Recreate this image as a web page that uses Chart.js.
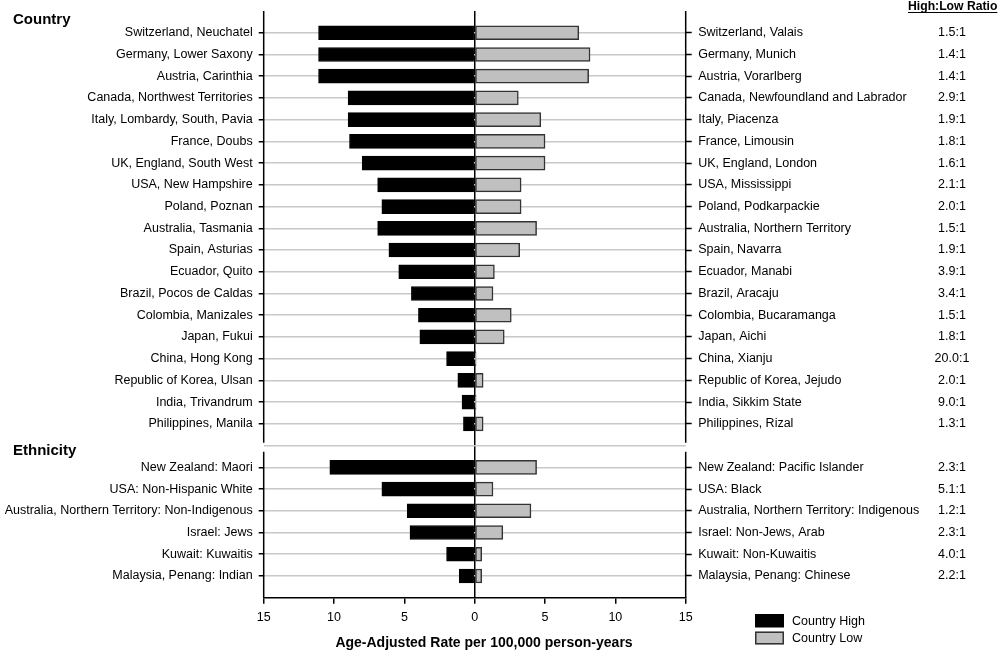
<!DOCTYPE html>
<html>
<head>
<meta charset="utf-8">
<script src="https://cdn.jsdelivr.net/npm/chart.js@4.4.1/dist/chart.umd.min.js"></script>
<style>
  html, body { margin: 0; padding: 0; background: #fff; }
  #wrap { width: 1000px; height: 651px; position: relative; }
</style>
</head>
<body>
<div id="wrap"><canvas id="rateChart"></canvas></div>
<script>
// rows 0-18: countries, row 19: gap, rows 20-25: ethnic groups
const highLabels = [
  'Switzerland, Neuchatel', 'Germany, Lower Saxony', 'Austria, Carinthia',
  'Canada, Northwest Territories', 'Italy, Lombardy, South, Pavia', 'France, Doubs',
  'UK, England, South West', 'USA, New Hampshire', 'Poland, Poznan',
  'Australia, Tasmania', 'Spain, Asturias', 'Ecuador, Quito',
  'Brazil, Pocos de Caldas', 'Colombia, Manizales', 'Japan, Fukui',
  'China, Hong Kong', 'Republic of Korea, Ulsan', 'India, Trivandrum',
  'Philippines, Manila', '',
  'New Zealand: Maori', 'USA: Non-Hispanic White', 'Australia, Northern Territory: Non-Indigenous',
  'Israel: Jews', 'Kuwait: Kuwaitis', 'Malaysia, Penang: Indian'
];
const lowLabels = [
  'Switzerland, Valais', 'Germany, Munich', 'Austria, Vorarlberg',
  'Canada, Newfoundland and Labrador', 'Italy, Piacenza', 'France, Limousin',
  'UK, England, London', 'USA, Mississippi', 'Poland, Podkarpackie',
  'Australia, Northern Territory', 'Spain, Navarra', 'Ecuador, Manabi',
  'Brazil, Aracaju', 'Colombia, Bucaramanga', 'Japan, Aichi',
  'China, Xianju', 'Republic of Korea, Jejudo', 'India, Sikkim State',
  'Philippines, Rizal', '',
  'New Zealand: Pacific Islander', 'USA: Black', 'Australia, Northern Territory: Indigenous',
  'Israel: Non-Jews, Arab', 'Kuwait: Non-Kuwaitis', 'Malaysia, Penang: Chinese'
];
const highRates = [11.1, 11.1, 11.1, 9.0, 9.0, 8.9, 8.0, 6.9, 6.6, 6.9, 6.1, 5.4, 4.5, 4.0, 3.9, 2.0, 1.2, 0.9, 0.8, null,
  10.3, 6.6, 4.8, 4.6, 2.0, 1.1];
const lowRates = [7.4, 8.2, 8.1, 3.1, 4.7, 5.0, 5.0, 3.3, 3.3, 4.4, 3.2, 1.4, 1.3, 2.6, 2.1, 0.1, 0.6, 0.1, 0.6, null,
  4.4, 1.3, 4.0, 2.0, 0.5, 0.5];
const ratios = ['1.5:1', '1.4:1', '1.4:1', '2.9:1', '1.9:1', '1.8:1', '1.6:1', '2.1:1', '2.0:1', '1.5:1',
  '1.9:1', '3.9:1', '3.4:1', '1.5:1', '1.8:1', '20.0:1', '2.0:1', '9.0:1', '1.3:1', '',
  '2.3:1', '5.1:1', '1.2:1', '2.3:1', '4.0:1', '2.2:1'];
const xTicks = [-15, -10, -5, 0, 5, 10, 15];
const gapRow = 19;

const FONT = '"Liberation Sans", Arial, sans-serif';

const highData = [];
const lowData = [];
highRates.forEach((v, i) => { if (v !== null) highData.push({ x: -v, y: i }); });
lowRates.forEach((v, i) => { if (v !== null) lowData.push({ x: v, y: i }); });

const rowTicks = (scale) => {
  scale.ticks = highLabels.map((_, i) => ({ value: i }));
};
const tickMarkColor = (ctx) => (ctx.tick && ctx.tick.value === gapRow ? 'rgba(0,0,0,0)' : '#000');
const fitRows = (width) => (scale) => {
  scale.width = width;
  scale.paddingTop = 0;
  scale.paddingBottom = 0;
};

// axis lines, ratio column, headings and legend
const decor = {
  id: 'decor',
  afterDraw(chart) {
    const { ctx, chartArea } = chart;
    const y = chart.scales.y;
    const breakTop = y.getPixelForValue(18.87);
    const breakBottom = y.getPixelForValue(19.28);
    ctx.save();
    ctx.strokeStyle = '#000';
    ctx.lineWidth = 1.5;
    [chartArea.left, chartArea.right].forEach(px => {
      ctx.beginPath();
      ctx.moveTo(px, chartArea.top);
      ctx.lineTo(px, breakTop);
      ctx.moveTo(px, breakBottom);
      ctx.lineTo(px, chartArea.bottom);
      ctx.stroke();
    });

    ctx.fillStyle = '#000';
    ctx.textBaseline = 'middle';
    ctx.textAlign = 'center';
    ctx.font = '12.5px ' + FONT;
    ratios.forEach((r, i) => {
      if (r) ctx.fillText(r, 952, y.getPixelForValue(i));
    });

    ctx.textBaseline = 'alphabetic';
    ctx.textAlign = 'left';
    ctx.font = 'bold 15px ' + FONT;
    ctx.fillText('Country', 13, 24);
    ctx.fillText('Ethnicity', 13, 455);

    ctx.font = 'bold 12.2px ' + FONT;
    ctx.fillText('High:Low Ratio', 908, 10);
    const w = ctx.measureText('High:Low Ratio').width;
    ctx.lineWidth = 1;
    ctx.beginPath();
    ctx.moveTo(908, 12.5);
    ctx.lineTo(908 + w, 12.5);
    ctx.stroke();

    ctx.textAlign = 'center';
    ctx.textBaseline = 'middle';
    ctx.font = 'bold 14px ' + FONT;
    ctx.fillText('Age-Adjusted Rate per 100,000 person-years', 484, 643);

    // legend
    ctx.fillStyle = '#000';
    ctx.fillRect(755, 614, 29, 13.5);
    ctx.fillStyle = '#c0c0c0';
    ctx.fillRect(755, 631.5, 29, 13);
    ctx.strokeStyle = '#333';
    ctx.lineWidth = 1.5;
    ctx.strokeRect(755.75, 632.25, 27.5, 11.5);
    ctx.fillStyle = '#000';
    ctx.textAlign = 'left';
    ctx.font = '12.5px ' + FONT;
    ctx.fillText('Country High', 792, 622);
    ctx.fillText('Country Low', 792, 638.5);
    ctx.restore();
  }
};

new Chart(document.getElementById('rateChart').getContext('2d'), {
  type: 'bar',
  data: {
    datasets: [
      {
        label: 'Country High',
        data: highData,
        backgroundColor: '#000',
        borderColor: '#000',
        borderWidth: 1,
        barThickness: 14,
        grouped: false
      },
      {
        label: 'Country Low',
        data: lowData,
        backgroundColor: '#c0c0c0',
        borderColor: '#333',
        borderWidth: 1.5,
        borderSkipped: false,
        barThickness: 14,
        grouped: false
      }
    ]
  },
  options: {
    indexAxis: 'y',
    responsive: true,
    maintainAspectRatio: false,
    animation: false,
    layout: { padding: { top: 11, left: 0, right: 0, bottom: 0 } },
    plugins: {
      legend: { display: false },
      tooltip: { enabled: false }
    },
    scales: {
      x: {
        type: 'linear',
        min: -15,
        max: 15,
        afterBuildTicks: (scale) => { scale.ticks = xTicks.map(v => ({ value: v })); },
        ticks: {
          callback: (v) => Math.abs(v),
          color: '#000',
          font: { family: FONT, size: 12.5 },
          padding: 6
        },
        grid: {
          color: (ctx) => (ctx.tick && ctx.tick.value === 0 ? '#000' : 'rgba(0,0,0,0)'),
          lineWidth: 1.5,
          tickColor: '#000',
          tickLength: 6,
          tickWidth: 1.5
        },
        border: { display: true, color: '#000', width: 1.5 },
        afterFit: (scale) => { scale.height = 53.3; }
      },
      y: {
        type: 'linear',
        position: 'left',
        reverse: true,
        offset: false,
        min: -1,
        max: 26,
        afterBuildTicks: rowTicks,
        ticks: {
          autoSkip: false,
          callback: (v) => highLabels[v] || '',
          color: '#000',
          font: { family: FONT, size: 12.5 },
          padding: 6
        },
        grid: {
          offset: false,
          color: '#c8c8c8',
          lineWidth: 1.5,
          tickColor: tickMarkColor,
          tickLength: 5,
          tickWidth: 1.5
        },
        border: { display: false },
        afterFit: fitRows(263.7)
      },
      y2: {
        type: 'linear',
        position: 'right',
        reverse: true,
        offset: false,
        min: -1,
        max: 26,
        afterBuildTicks: rowTicks,
        ticks: {
          autoSkip: false,
          callback: (v) => lowLabels[v] || '',
          color: '#000',
          font: { family: FONT, size: 12.5 },
          padding: 6.5
        },
        grid: {
          offset: false,
          drawOnChartArea: false,
          tickColor: tickMarkColor,
          tickLength: 6,
          tickWidth: 1.5
        },
        border: { display: false },
        afterFit: fitRows(314.3)
      }
    }
  },
  plugins: [decor]
});
</script>
</body>
</html>
